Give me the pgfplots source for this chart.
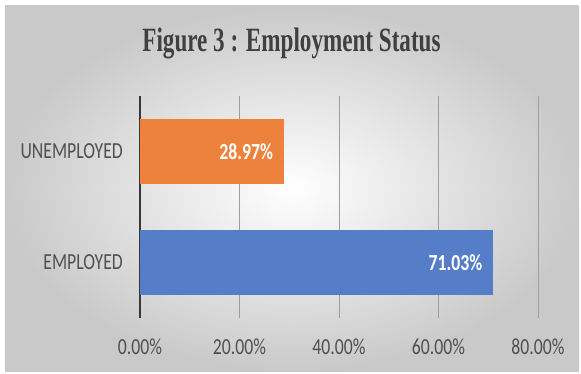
\documentclass[border=0pt]{standalone}
\usepackage{fontspec}
\usepackage{pgfplots}
\pgfplotsset{compat=1.18}
\setmainfont{Carlito}
\newfontfamily\labfont[FakeStretch=0.77]{Carlito}
\newfontfamily\titlefont[FakeStretch=0.68]{Liberation Serif}
\definecolor{barorange}{RGB}{237,130,60}
\definecolor{barblue}{RGB}{85,125,200}
\definecolor{txtgray}{RGB}{80,80,80}
\begin{document}
\begin{tikzpicture}
\fill[white] (0pt,0pt) rectangle (581pt,374pt);
\shade[inner color=white, outer color=black!21, draw=black!22] (5pt,3pt) rectangle (578pt,368pt);
\node[font=\titlefont\bfseries\fontsize{34}{38}\selectfont, text=black!75, anchor=base] at (291.5pt,322pt) {Figure 3 : Employment Status};
\begin{axis}[
  at={(140pt,56pt)}, anchor=south west,
  scale only axis, width=398pt, height=222pt,
  xbar, bar shift=0pt, bar width=0.577,
  xmin=0, xmax=80, ymin=-0.5, ymax=1.5,
  xtick={0,20,40,60,80}, ytick={0,1},
  yticklabels={EMPLOYED,UNEMPLOYED},
  axis x line*=bottom, axis y line*=left,
  x axis line style={draw=none},
  y axis line style={draw=black!78, line width=1.8pt},
  major tick length=0pt,
  xmajorgrids, major grid style={draw=black!38, line width=0.8pt},
  /pgf/number format/assume math mode=true,
  xticklabel={\pgfmathprintnumber[fixed,zerofill,precision=2]{\tick}\%},
  xticklabel style={anchor=north, inner sep=0pt, yshift=-21pt, text=txtgray, font=\labfont\fontsize{23}{27}\selectfont},
  yticklabel style={anchor=east, inner sep=0pt, xshift=-17pt, text=txtgray, font=\labfont\fontsize{23}{27}\selectfont},
  point meta=x,
  nodes near coords={\pgfmathprintnumber[fixed,zerofill,precision=2]{\pgfplotspointmeta}\%},
  nodes near coords style={anchor=east, inner sep=0pt, xshift=-11pt, text=white, font=\labfont\bfseries\fontsize{23}{27}\selectfont},
  axis background/.style={fill=none},
  clip=false,
]
\addplot[fill=barorange, draw=none] coordinates {(28.97,1)};
\addplot[fill=barblue, draw=none] coordinates {(71.03,0)};
\end{axis}
\end{tikzpicture}
\end{document}
